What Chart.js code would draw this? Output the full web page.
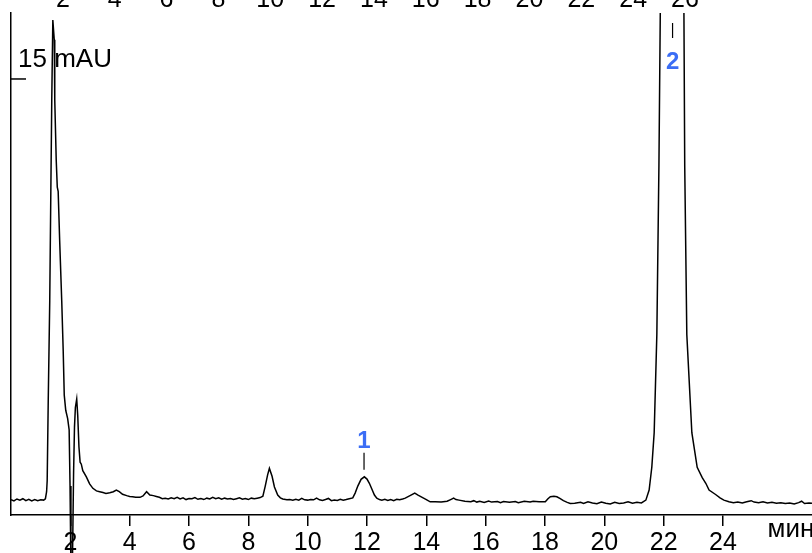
<!DOCTYPE html>
<html>
<head>
<meta charset="utf-8">
<script src="https://cdn.jsdelivr.net/npm/chart.js@4.4.0/dist/chart.umd.min.js"></script>
<style>
body { margin: 0; overflow: hidden; background: #fff; }
#chromatogram { position: absolute; left: 0; top: -17px; }
</style>
</head>
<body>
<canvas id="chromatogram" width="812" height="570"></canvas>
<script>
// retention time, min
const times = [
    0.00, 0.10, 0.20, 0.30, 0.40, 0.50, 0.60, 0.70, 0.80, 0.90, 1.00, 1.10, 1.16,
    1.20, 1.22, 1.256, 1.306, 1.34, 1.374, 1.41, 1.458, 1.475, 1.525, 1.56, 1.59,
    1.64, 1.71, 1.76, 1.795, 1.845, 1.91, 1.96, 1.99, 2.02, 2.05, 2.08, 2.11, 2.14,
    2.17, 2.215, 2.25, 2.29, 2.33, 2.37, 2.42, 2.54, 2.65, 2.76, 2.88, 2.99, 3.1,
    3.2, 3.33, 3.45, 3.55, 3.65, 3.76, 3.9, 4.0, 4.1, 4.2, 4.35, 4.45, 4.57, 4.68,
    4.8, 4.9, 5.0, 5.1, 5.2, 5.3, 5.4, 5.5, 5.6, 5.7, 5.8, 5.9, 6.0, 6.1, 6.2, 6.3,
    6.4, 6.5, 6.6, 6.7, 6.8, 6.9, 7.0, 7.1, 7.2, 7.3, 7.4, 7.5, 7.6, 7.7, 7.8, 7.9,
    8.0, 8.1, 8.2, 8.3, 8.4, 8.49, 8.57, 8.65, 8.71, 8.8, 8.88, 8.99, 9.08, 9.16,
    9.3, 9.4, 9.5, 9.6, 9.7, 9.8, 9.9, 10.0, 10.1, 10.2, 10.3, 10.4, 10.5, 10.6,
    10.7, 10.8, 10.9, 11.0, 11.1, 11.2, 11.3, 11.4, 11.52, 11.6, 11.69, 11.8, 11.91,
    12.0, 12.08, 12.17, 12.25, 12.33, 12.42, 12.5, 12.6, 12.7, 12.8, 12.9, 13.0,
    13.1, 13.2, 13.29, 13.45, 13.61, 13.72, 13.86, 14.0, 14.13, 14.3, 14.5, 14.7,
    14.82, 14.92, 15.0, 15.1, 15.3, 15.5, 15.6, 15.7, 15.8, 15.95, 16.1, 16.2, 16.4,
    16.5, 16.6, 16.8, 17.0, 17.1, 17.3, 17.5, 17.6, 17.8, 18.01, 18.1, 18.18, 18.3,
    18.4, 18.5, 18.62, 18.75, 18.85, 19.0, 19.2, 19.3, 19.45, 19.6, 19.75, 19.9,
    20.05, 20.2, 20.35, 20.5, 20.65, 20.8, 20.95, 21.1, 21.25, 21.4, 21.51, 21.6,
    21.68, 21.77, 21.84, 21.95, 22.28, 22.62, 22.71, 22.78, 22.95, 23.13, 23.3,
    23.42, 23.53, 23.75, 23.9, 24.03, 24.2, 24.35, 24.5, 24.65, 24.8, 24.95, 25.05,
    25.2, 25.35, 25.5, 25.65, 25.8, 25.95, 26.1, 26.25, 26.4, 26.55, 26.65, 26.75,
    26.9, 27.0
];
// detector signal, mAU
const signal = [
    0.02, -0.03, 0.04, 0.00, 0.05, -0.02, 0.03, -0.03, 0.02, -0.02, 0.01, 0.00, 0.05,
    0.3, 0.7, 3.6, 7.1, 10.7, 14.25, 17.1, 16.4, 14.25, 12.1, 11.15, 11.0,
    9.26, 7.1, 5.3, 3.74, 3.2, 2.9, 2.5, 0.5, -2.5, -3.5, -1.5, 1.0, 2.6,
    3.3, 3.6, 3.0, 1.9, 1.35, 1.28, 1.05, 0.83, 0.58, 0.42, 0.33, 0.30, 0.27,
    0.24, 0.26, 0.3, 0.36, 0.3, 0.21, 0.16, 0.13, 0.12, 0.1, 0.1, 0.15, 0.3, 0.18,
    0.16, 0.13, 0.1, 0.05, 0.07, 0.04, 0.08, 0.05, 0.1, 0.04, 0.08, 0.02, 0.06, 0.05, 0.09, 0.03,
    0.06, 0.02, 0.07, 0.04, 0.1, 0.05, 0.08, 0.03, 0.07, 0.04, 0.06, 0.02, 0.05, 0.08, 0.03, 0.06,
    0.02, 0.07, 0.05, 0.07, 0.09, 0.14, 0.5, 0.9, 1.13, 0.85, 0.47, 0.18, 0.08, 0.04,
    0.01, 0.02, 0.0, 0.03, 0.0, 0.06, 0.01, 0.0, 0.02, 0.01, 0.07, 0.01, -0.01, 0.02,
    0.06, -0.02, 0.0, -0.01, 0.03, 0.0, 0.02, 0.05, 0.08, 0.25, 0.5, 0.74, 0.83,
    0.75, 0.6, 0.38, 0.18, 0.07, 0.02, 0.0, 0.03, -0.01, 0.02, -0.02, 0.03,
    0.01, 0.04, 0.07, 0.16, 0.25, 0.18, 0.1, 0.02, -0.06, -0.06, -0.07, -0.04,
    0.02, 0.07, 0.02, 0.0, -0.04, -0.06, -0.02, -0.07, -0.04, -0.08, -0.03, -0.07, -0.05,
    -0.09, -0.05, -0.08, -0.05, -0.09, -0.04, -0.07, -0.04, -0.06, -0.06, 0.05, 0.12, 0.14,
    0.12, 0.06, -0.02, -0.08, -0.12, -0.11, -0.08, -0.12, -0.06, -0.1, -0.13, -0.07,
    -0.11, -0.14, -0.08, -0.12, -0.1, -0.06, -0.11, -0.08, -0.1, 0.0, 0.36, 1.17,
    2.4, 5.9, 11.9, 25, 60, 30, 11.9, 5.9, 2.4, 1.17, 0.8,
    0.6, 0.36, 0.2, 0.08, 0.0, -0.06, -0.09, -0.07, -0.1, -0.06, -0.02, -0.07,
    -0.09, -0.06, -0.1, -0.08, -0.11, -0.09, -0.12, -0.1, -0.14, -0.09, -0.04, -0.12,
    -0.1, -0.11
];

const bottomTicks = [2, 4, 6, 8, 10, 12, 14, 16, 18, 20, 22, 24];
const topTicks = [2, 4, 6, 8, 10, 12, 14, 16, 18, 20, 22, 24, 26];
const peakTimes = [11.9, 22.3];
const peakNames = ['1', '2'];
const scaleBarValue = 15;
const unitX = 'мин';
const unitY = 'mAU';

const FONT = '"Liberation Sans", Arial, sans-serif';
Chart.defaults.font.family = FONT;
Chart.defaults.color = '#000';

const points = times.map((t, i) => ({ x: t, y: signal[i] }));

// peak markers, scale bar and units drawn on top of the trace
const marksPlugin = {
    id: 'marks',
    afterDatasetsDraw(chart) {
        const ctx = chart.ctx;
        const area = chart.chartArea;
        const xs = chart.scales.x;
        const ys = chart.scales.y;
        ctx.save();
        ctx.strokeStyle = '#000';
        ctx.fillStyle = '#000';
        ctx.lineWidth = 1.5;

        const yBar = ys.getPixelForValue(scaleBarValue);
        ctx.beginPath();
        ctx.moveTo(area.left, yBar);
        ctx.lineTo(area.left + 15, yBar);
        ctx.stroke();
        ctx.font = '26px ' + FONT;
        ctx.textAlign = 'left';
        ctx.textBaseline = 'alphabetic';
        ctx.fillText(scaleBarValue + ' ' + unitY, area.left + 7, yBar - 12);

        ctx.font = '26px ' + FONT;
        ctx.fillText(unitX, xs.getPixelForValue(25.5), area.bottom + 22);

        ctx.textAlign = 'center';
        ctx.font = 'bold 24px ' + FONT;
        ctx.lineWidth = 1.2;
        peakTimes.forEach((pt, i) => {
            let top = -Infinity;
            times.forEach((t, j) => {
                if (Math.abs(t - pt) < 0.2) top = Math.max(top, signal[j]);
            });
            const px = xs.getPixelForValue(pt);
            const py = ys.getPixelForValue(top);
            ctx.strokeStyle = '#000';
            ctx.fillStyle = '#3b6df5';
            if (py < area.top) {
                ctx.beginPath();
                ctx.moveTo(px, area.top + 10);
                ctx.lineTo(px, area.top + 25);
                ctx.stroke();
                ctx.fillText(peakNames[i], px, area.top + 56);
            } else {
                ctx.beginPath();
                ctx.moveTo(px, py - 7);
                ctx.lineTo(px, py - 24);
                ctx.stroke();
                ctx.fillText(peakNames[i], px, py - 29);
            }
        });
        ctx.restore();
    }
};

const chart = new Chart(document.getElementById('chromatogram').getContext('2d'), {
    type: 'line',
    data: {
        datasets: [{
            data: points,
            borderColor: '#000',
            borderWidth: 1.5,
            pointRadius: 0,
            tension: 0,
            fill: false,
            clip: { left: 0, top: 0, right: 0, bottom: false }
        }]
    },
    options: {
        responsive: false,
        animation: false,
        layout: { padding: 0 },
        plugins: { legend: { display: false }, tooltip: { enabled: false } },
        scales: {
            x: {
                type: 'linear',
                position: 'bottom',
                min: 0,
                max: 27,
                afterBuildTicks: s => { s.ticks = bottomTicks.map(v => ({ value: v })); },
                afterFit: s => { s.height = 38; },
                grid: { drawOnChartArea: false, drawTicks: true, tickLength: 11, color: '#000', lineWidth: 1.5 },
                border: { color: '#000', width: 1.5 },
                ticks: { padding: 2, maxRotation: 0, autoSkip: false, font: { size: 25 }, color: '#000' }
            },
            xTop: {
                type: 'linear',
                position: 'top',
                min: 0,
                max: 30.9,
                afterBuildTicks: s => { s.ticks = topTicks.map(v => ({ value: v })); },
                afterFit: s => { s.height = 30; },
                grid: { display: false, drawTicks: false },
                border: { display: false },
                ticks: { padding: -2, maxRotation: 0, autoSkip: false, font: { size: 25 }, color: '#000' }
            },
            y: {
                type: 'linear',
                min: -0.53,
                max: 17.35,
                afterFit: s => { s.width = 11; },
                grid: { display: false, drawTicks: false },
                border: { color: '#000', width: 1.5 },
                ticks: { display: false }
            }
        }
    },
    plugins: [marksPlugin]
});
</script>
</body>
</html>
